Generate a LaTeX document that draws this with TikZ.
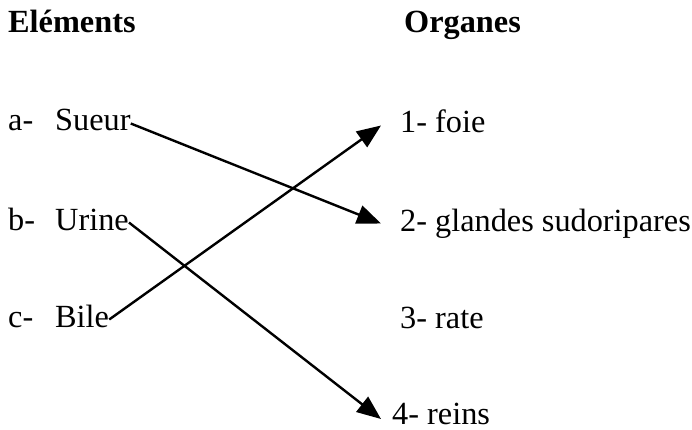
\documentclass[tikz,border=0pt]{standalone}
\usepackage{fontspec}
\setmainfont{Liberation Serif}
\usetikzlibrary{arrows.meta}
\begin{document}
\begin{tikzpicture}[
        x=1pt, y=-1pt,
        every node/.style={inner sep=0pt, anchor=base west, text height=22pt, text depth=7pt, font=\fontsize{32.3}{39}\selectfont},
        titre/.style={font=\fontsize{32.3}{39}\selectfont\bfseries},
        organe/.style={inner xsep=19pt},
        lien/.style={line width=2.4pt, -{Triangle[length=24pt, width=19pt]}}
    ]

        \useasboundingbox (0,0) rectangle (692,430);

        % titres
        \node[titre] (elements) at (8,33) {Eléments};
        \node[titre] (organes) at (404,33) {Organes};

        % colonne de gauche
        \node (la) at (8,131) {a-};
        \node (sueur) at (55,131) {Sueur};
        \node (lb) at (8,230) {b-};
        \node (urine) at (55,230) {Urine};
        \node (lc) at (8,327) {c-};
        \node (bile) at (55,327) {Bile};

        % colonne de droite
        \node[organe] (foie) at (381,133) {1- foie};
        \node[organe] (glandes) at (381,231) {2- glandes sudoripares};
        \node[organe] (rate) at (381,328) {3- rate};
        \node[organe, inner xsep=11pt, text height=14pt, text depth=4pt] (reins) at (381,424) {4- reins};

        % liaisons
        \draw[lien] (sueur.east) -- (glandes.west);
        \draw[lien] (urine.east) -- (reins.west);
        \draw[lien] (bile.east) -- (foie.west);

    \end{tikzpicture}
\end{document}
